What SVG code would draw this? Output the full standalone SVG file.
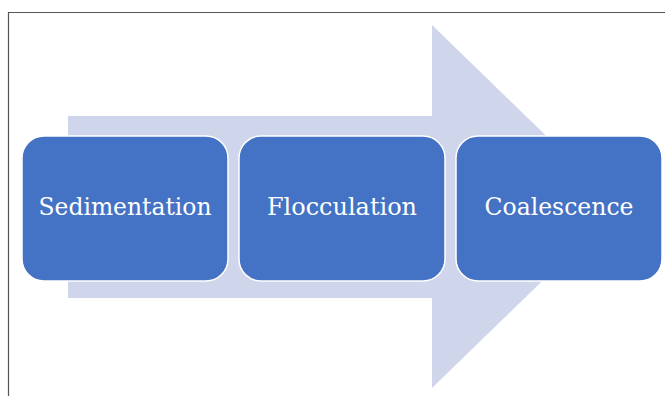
<svg xmlns="http://www.w3.org/2000/svg" width="665" height="396" viewBox="0 0 665 396">
<style>
.box{fill:#4472C4;stroke:#ffffff;stroke-width:1.5}
.lbl{font-family:"DejaVu Serif",serif;font-size:24px;fill:#ffffff;text-anchor:middle}
</style>
<rect x="0" y="0" width="665" height="396" fill="#ffffff"/>
<path d="M8.5 396 V12.5 H665" fill="none" stroke="#555555" stroke-width="1.2"/>
<g id="connectors">
<polygon points="68,116 432,116 432,25 619,206.5 432,388 432,298 68,298" fill="#CFD5EA"/>
</g>
<g id="node1"><rect class="box" x="22" y="136" width="206" height="145" rx="22"/><text class="lbl" x="125" y="215" textLength="173" lengthAdjust="spacingAndGlyphs">Sedimentation</text></g>
<g id="node2"><rect class="box" x="239" y="136" width="206" height="145" rx="22"/><text class="lbl" x="342" y="215" textLength="150" lengthAdjust="spacingAndGlyphs">Flocculation</text></g>
<g id="node3"><rect class="box" x="456" y="136" width="206" height="145" rx="22"/><text class="lbl" x="559" y="215" textLength="149" lengthAdjust="spacingAndGlyphs">Coalescence</text></g>
</svg>
